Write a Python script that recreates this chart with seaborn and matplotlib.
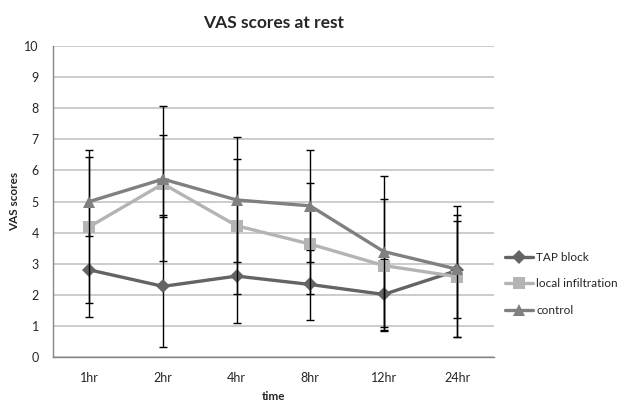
import numpy as np
import pandas as pd
import matplotlib
matplotlib.use("Agg")
import matplotlib.pyplot as plt
import seaborn as sns

times = ["1hr", "2hr", "4hr", "8hr", "12hr", "24hr"]
series_names = ["TAP block", "local infiltration", "control"]

tap_mean = [2.80, 2.27, 2.60, 2.33, 2.01, 2.78]
local_mean = [4.19, 5.57, 4.22, 3.63, 2.94, 2.58]
control_mean = [5.00, 5.72, 5.05, 4.86, 3.39, 2.82]

# error bar extents (lower, upper) read from the caps
tap_low = [1.27, 0.33, 1.10, 1.20, 0.88, 1.24]
tap_high = [4.33, 4.56, 4.10, 3.44, 3.14, 4.36]
local_low = [1.72, 3.08, 2.01, 2.01, 0.82, 0.64]
local_high = [6.42, 8.08, 6.36, 5.60, 5.07, 4.55]
control_low = [3.89, 4.50, 3.06, 3.04, 0.95, 0.64]
control_high = [6.66, 7.15, 7.07, 6.66, 5.82, 4.85]

y_ticks = list(range(0, 11))

sns.set_style("white")
plt.rcParams["font.family"] = ["Lato", "DejaVu Sans"]

fig = plt.figure(figsize=(6.27, 4.01), dpi=100)
ax = fig.add_axes([0.084, 0.110, 0.704, 0.775])

pos = np.arange(len(times))
means = [tap_mean, local_mean, control_mean]
lows = [tap_low, local_low, control_low]
highs = [tap_high, local_high, control_high]
colors = ["#646464", "#B4B4B4", "#808080"]
markers = ["D", "s", "^"]
msizes = [7, 8, 9]

for i, name in enumerate(series_names):
    m = np.array(means[i])
    lo = m - np.array(lows[i])
    hi = np.array(highs[i]) - m
    ax.errorbar(pos, m, yerr=[lo, hi], fmt="none", ecolor="black",
                elinewidth=1.0, capsize=2.6, capthick=1.0, zorder=3 + 2 * i)
    df = pd.DataFrame({"time": pos, "score": m})
    sns.lineplot(data=df, x="time", y="score", ax=ax, color=colors[i],
                 marker=markers[i], markersize=msizes[i], markeredgewidth=0,
                 linewidth=2.4, label=name, zorder=4 + 2 * i)

ax.set_xlim(-0.5, len(times) - 0.5)
ax.set_ylim(0, 10)
ax.set_yticks(y_ticks)
ax.set_yticklabels([str(t) for t in y_ticks], fontsize=9)
ax.set_xticks(pos)
ax.set_xticklabels(times, fontsize=9)
ax.set_xticks(np.arange(-0.5, len(times), 1.0), minor=True)
ax.tick_params(axis="x", which="major", length=0, pad=11)
ax.tick_params(axis="x", which="minor", length=4, width=1, color="#868686", direction="out")
ax.tick_params(axis="y", which="major", length=4, width=1, color="#868686", direction="out", pad=6)
ax.grid(axis="y", color="#BEBEBE", linewidth=1.1)
ax.set_axisbelow(True)
for s in ["top", "right"]:
    ax.spines[s].set_visible(False)
for s in ["left", "bottom"]:
    ax.spines[s].set_color("#868686")
    ax.spines[s].set_linewidth(1.0)

ax.set_title("VAS scores at rest", fontsize=12.5, fontweight="bold", pad=13)
ax.set_xlabel("time", fontsize=8.5, fontweight="bold", labelpad=5)
ax.set_ylabel("VAS scores", fontsize=8.5, fontweight="bold", labelpad=3)

leg = ax.legend(loc="center left", bbox_to_anchor=(1.013, 0.235), frameon=False,
                fontsize=8.5, handlelength=2.4, handletextpad=0.3, labelspacing=1.3,
                borderaxespad=0)

fig.savefig("out.png", dpi=100)
